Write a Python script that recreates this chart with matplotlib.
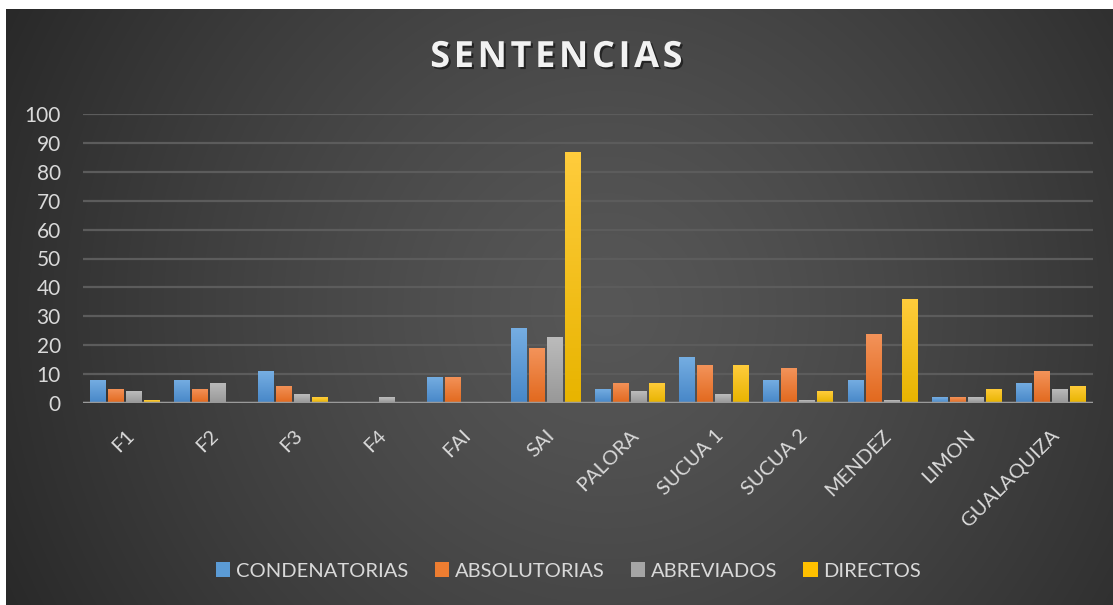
import numpy as np
import matplotlib
matplotlib.use("Agg")
import matplotlib.pyplot as plt
import matplotlib.patheffects as pe
from matplotlib.colors import LinearSegmentedColormap

categories = ["F1", "F2", "F3", "F4", "FAI", "SAI", "PALORA", "SUCUA 1",
              "SUCUA 2", "MENDEZ", "LIMON", "GUALAQUIZA"]
condenatorias = [8, 8, 11, 0, 9, 26, 5, 16, 8, 8, 2, 7]
absolutorias = [5, 5, 6, 0, 9, 19, 7, 13, 12, 24, 2, 11]
abreviados = [4, 7, 3, 2, 0, 23, 4, 3, 1, 1, 2, 5]
directos = [1, 0, 2, 0, 0, 87, 7, 13, 4, 36, 5, 6]

# name, values, base colour, (top, bottom) gradient colours
series = [
    ("CONDENATORIAS", condenatorias, "#5b9bd5", ("#76aee2", "#4787c8")),
    ("ABSOLUTORIAS", absolutorias, "#ed7d31", ("#f3935a", "#e2691e")),
    ("ABREVIADOS", abreviados, "#a5a5a5", ("#bcbcbc", "#989898")),
    ("DIRECTOS", directos, "#ffc000", ("#ffcc3c", "#e8b400")),
]

plt.rcParams["font.family"] = ["Lato", "DejaVu Sans"]
text_color = "#d9d9d9"

W, H = 1113, 605
fig = plt.figure(figsize=(W / 100, H / 100), dpi=100)
fig.patch.set_facecolor("white")

# radial background gradient (white strip on top / left like the source)
bg = fig.add_axes([6 / W, 0, 1 - 6 / W, 1 - 9 / H])
yy, xx = np.mgrid[0:596, 0:1107]
r = np.sqrt((xx - 600) ** 2 + (yy - 300) ** 2)
r = np.clip(r / 700.0, 0, 1)
val = 0.34 - 0.19 * r ** 1.3
bg.imshow(np.dstack([val, val, val]), aspect="auto", extent=[0, 1, 0, 1])
bg.set_axis_off()

ax = fig.add_axes([83 / W, 1 - 403 / H, (1093 - 83) / W, (403 - 114) / H])
ax.set_facecolor("none")

x = np.arange(len(categories))
step = 0.214
width = 0.19
grad = np.linspace(1, 0, 64).reshape(-1, 1)
for i, (name, vals, color, (top, bottom)) in enumerate(series):
    bars = ax.bar(x + (i - 1.5) * step, vals, width, color=color, label=name,
                  zorder=3)
    cmap = LinearSegmentedColormap.from_list(name, [bottom, top])
    for b in bars:
        if b.get_height() <= 0:
            continue
        x0, y0 = b.get_x(), b.get_y()
        im = ax.imshow(grad, cmap=cmap, aspect="auto", zorder=3.5,
                       extent=[x0, x0 + b.get_width(), y0, y0 + b.get_height()])
        im.set_clip_path(b)

ax.set_xlim(-0.5, len(categories) - 0.5)
ax.set_ylim(0, 100)
ax.set_yticks(range(0, 101, 10))
ax.yaxis.grid(True, color="#5c5c5c", linewidth=1.6, zorder=0)
ax.axhline(0, color="#9a9a9a", linewidth=2.5, zorder=4)
for s in ax.spines.values():
    s.set_visible(False)
ax.tick_params(axis="both", length=0, colors=text_color, labelsize=15)
ax.tick_params(axis="y", pad=16)
ax.set_xticks(x)
ax.set_xticklabels(categories, rotation=45, ha="right", va="top",
                   rotation_mode="anchor", fontsize=14.5, color=text_color)
ax.tick_params(axis="x", pad=17)

# small letter spacing in the title
title = "\u200a".join("SENTENCIAS")
fig.text(0.5, 1 - 58 / H, title, ha="center", va="center",
         fontsize=26, fontweight="bold", color="#f2f2f2",
         family=["Open Sans", "DejaVu Sans"],
         path_effects=[pe.withSimplePatchShadow(offset=(1.5, -1.5),
                                                shadow_rgbFace="black",
                                                alpha=0.5)])

leg = fig.legend(loc="center", bbox_to_anchor=(0.511, 1 - 571 / H), ncol=4,
                 frameon=False, fontsize=14.5, handlelength=0.7,
                 handleheight=0.7, handletextpad=0.3, columnspacing=1.3)
for t in leg.get_texts():
    t.set_color(text_color)

fig.savefig("out.png", dpi=100, facecolor=fig.get_facecolor())
